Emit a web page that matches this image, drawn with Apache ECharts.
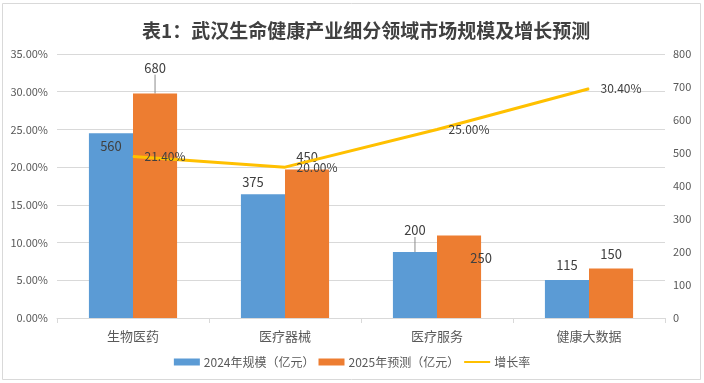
<!DOCTYPE html>
<html><head><meta charset="utf-8">
<script src="https://cdn.jsdelivr.net/npm/echarts@6/dist/echarts.min.js"></script>
<style>html,body{margin:0;padding:0;background:#fff}#c{width:704px;height:383px}</style>
</head><body><div id="c"></div>
<script>
var categories = ['生物医药', '医疗器械', '医疗服务', '健康大数据'];
var scale2024 = [560, 375, 200, 115];
var forecast2025 = [680, 450, 250, 150];
var growthRate = [21.40, 20.00, 25.00, 30.40];
var seriesNames = ['2024年规模（亿元）', '2025年预测（亿元）', '增长率'];
var titleText = '表1：武汉生命健康产业细分领域市场规模及增长预测';

var font = '"Microsoft YaHei","Noto Sans CJK SC",sans-serif';
var txt = '#595959';

// label tweaks per bar (style only)
var blueLbl = [
  {position: 'insideTop', distance: 6},
  {position: 'top', distance: 6, dx: -10},
  {position: 'top', distance: 5, dy: -10, line: true},
  {position: 'top', distance: 8}
];
var orangeLbl = [
  {position: 'top', distance: 5, dy: -14, line: true},
  {position: 'top', distance: 6},
  {position: 'insideTop', distance: 16, dx: 22},
  {position: 'top', distance: 8}
];
function mk(vals, cfg) {
  return vals.map(function (v, i) {
    var c = cfg[i];
    var o = {value: v, label: {position: c.position, distance: c.distance}};
    if (c.line) o.labelLine = {show: true, lineStyle: {color: '#8c8c8c', width: 1}};
    return o;
  });
}
function lay(cfg) {
  return function (p) {
    var c = cfg[p.dataIndex], r = {};
    if (c.dx) r.dx = c.dx;
    if (c.dy) r.dy = c.dy;
    return r;
  };
}
var chart = echarts.init(document.getElementById('c'));
chart.setOption({
  animation: false,
  textStyle: {fontFamily: font},
  title: {text: titleText, left: 137, top: 16,
    textStyle: {fontSize: 19, fontWeight: 'bold', color: '#404040', fontFamily: font}},
  graphic: [{type: 'rect', shape: {x: 2.5, y: 3.5, width: 698, height: 376},
    style: {fill: 'none', stroke: '#D9D9D9', lineWidth: 1}, silent: true}],
  legend: {bottom: 10, left: 'center', itemWidth: 26, itemHeight: 7, itemGap: 4,
    textStyle: {fontSize: 12, color: txt, padding: [0, 0, 0, -1]},
    data: [{name: seriesNames[0], icon: 'rect'}, {name: seriesNames[1], icon: 'rect'},
      {name: seriesNames[2], itemStyle: {opacity: 0}}]},
  grid: {left: 57, right: 39, top: 54, bottom: 65},
  xAxis: {type: 'category', data: categories,
    axisLine: {lineStyle: {color: '#D9D9D9'}},
    axisTick: {show: true, length: 5, lineStyle: {color: '#D9D9D9'}},
    axisLabel: {fontSize: 13, color: txt, margin: 12}},
  yAxis: [
    {type: 'value', min: 0, max: 35, interval: 5,
      axisLine: {show: false}, axisTick: {show: false},
      splitLine: {lineStyle: {color: '#D9D9D9'}},
      axisLabel: {fontSize: 11, color: txt, margin: 9, formatter: function (v) { return v.toFixed(2) + '%'; }}},
    {type: 'value', min: 0, max: 800, interval: 100,
      axisLine: {show: false}, axisTick: {show: false}, splitLine: {show: false},
      axisLabel: {fontSize: 11, color: txt, margin: 8}}
  ],
  series: [
    {name: seriesNames[0], type: 'bar', yAxisIndex: 1, barGap: '0%', barCategoryGap: '42%',
      itemStyle: {color: '#5B9BD5'},
      label: {show: true, fontSize: 13, color: '#404040'},
      labelLayout: lay(blueLbl),
      data: mk(scale2024, blueLbl)},
    {name: seriesNames[1], type: 'bar', yAxisIndex: 1,
      itemStyle: {color: '#ED7D31'},
      label: {show: true, fontSize: 13, color: '#404040'},
      labelLayout: lay(orangeLbl),
      data: mk(forecast2025, orangeLbl)},
    {name: seriesNames[2], type: 'line', yAxisIndex: 0, z: 5,
      symbol: 'circle', symbolSize: 1,
      itemStyle: {color: '#FFC000'},
      lineStyle: {color: '#FFC000', width: 3},
      label: {show: true, position: 'right', distance: 11, fontSize: 12, color: '#404040',
        formatter: function (p) { return p.value.toFixed(2) + '%'; }},
      data: growthRate}
  ]
});
</script></body></html>
